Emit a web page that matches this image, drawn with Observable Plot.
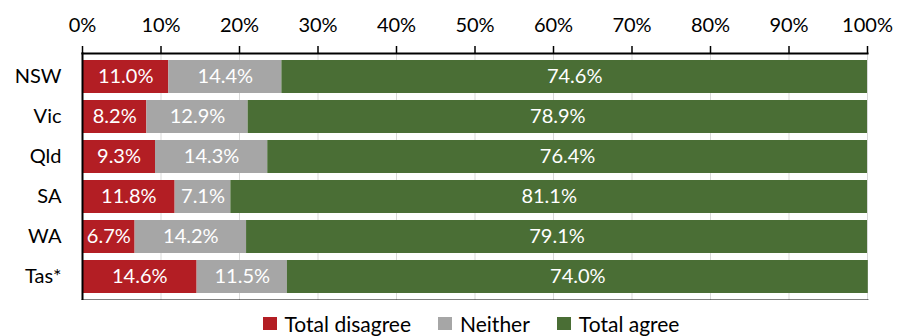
<!DOCTYPE html>
<html>
<head>
<meta charset="utf-8">
<script src="https://cdn.jsdelivr.net/npm/d3@7"></script>
<script src="https://cdn.jsdelivr.net/npm/@observablehq/plot@0.6"></script>
<style>
  html, body { margin: 0; padding: 0; background: #fff; }
  body { width: 907px; font-family: Lato, "Open Sans", sans-serif; }
  .legend { display: flex; justify-content: center; align-items: center; height: 46px; padding-left: 35px; font-size: 21px; color: #000; }
  .legend .item { display: flex; align-items: center; margin-right: 27px; }
  .legend .item:last-child { margin-right: 0; }
  .legend .sw { width: 14px; height: 13px; margin-right: 8px; }
</style>
</head>
<body>
<div id="chart"></div>
<script>
const states = ["NSW", "Vic", "Qld", "SA", "WA", "Tas*"];
const series = ["Total disagree", "Neither", "Total agree"];
const colors = ["#B31E24", "#A6A6A6", "#4A6E35"];
const totalDisagree = [11.0, 8.2, 9.3, 11.8, 6.7, 14.6];
const neither = [14.4, 12.9, 14.3, 7.1, 14.2, 11.5];
const totalAgree = [74.6, 78.9, 76.4, 81.1, 79.1, 74.0];
const xTicks = [0, 10, 20, 30, 40, 50, 60, 70, 80, 90, 100];

const valuesBySeries = [totalDisagree, neither, totalAgree];
const data = [];
series.forEach((s, si) => {
  states.forEach((st, i) => data.push({state: st, series: s, value: valuesBySeries[si][i]}));
});

const chart = Plot.plot({
  width: 907,
  height: 300,
  marginTop: 53,
  marginLeft: 82,
  marginRight: 40,
  marginBottom: 0,
  style: {fontFamily: "Lato, 'Open Sans', sans-serif", fontSize: "20px", color: "#000", background: "#fff"},
  x: {domain: [0, 100], ticks: xTicks, axis: null, label: null},
  y: {domain: states, padding: 0.17, paddingOuter: 0.1, axis: null, label: null},
  color: {domain: series, range: colors},
  marks: [
    Plot.gridX(xTicks, {stroke: "#d9d9d9", strokeOpacity: 1, strokeWidth: 1}),
    Plot.barX(data, Plot.stackX({x: "value", y: "state", fill: "series", z: "series", order: series})),
    Plot.text(data, Plot.stackX({x: "value", y: "state", z: "series", order: series, text: d => d.value.toFixed(1) + "%", fill: "white", fontSize: 20})),
    Plot.axisX({anchor: "top", ticks: xTicks, tickSize: 8, tickPadding: 14, tickFormat: d => d + "%", fontSize: 20, stroke: "#000", strokeWidth: 1.5, label: null}),
    Plot.axisY({anchor: "left", tickSize: 0, tickPadding: 21, fontSize: 20, label: null}),
    Plot.frame({anchor: "top", stroke: "#000", strokeWidth: 2}),
    Plot.frame({anchor: "left", stroke: "#000", strokeWidth: 2}),
    Plot.frame({anchor: "bottom", stroke: "#000", strokeWidth: 2})
  ]
});
document.getElementById("chart").appendChild(chart);

const legend = document.createElement("div");
legend.className = "legend";
series.forEach((s, i) => {
  const item = document.createElement("div");
  item.className = "item";
  const sw = document.createElement("span");
  sw.className = "sw";
  sw.style.background = colors[i];
  const label = document.createElement("span");
  label.textContent = s;
  item.appendChild(sw);
  item.appendChild(label);
  legend.appendChild(item);
});
document.body.appendChild(legend);
</script>
</body>
</html>
